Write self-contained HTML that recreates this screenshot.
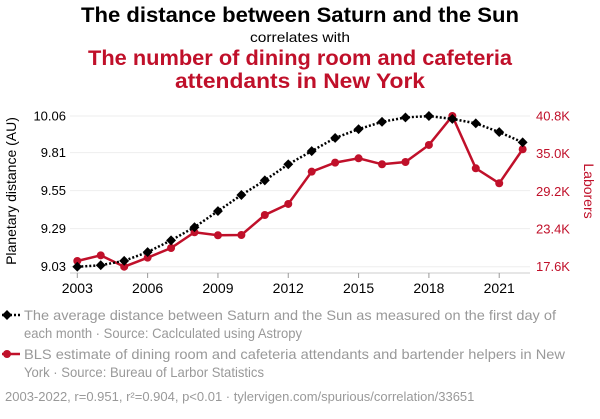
<!DOCTYPE html>
<html><head><meta charset="utf-8"><style>
body{margin:0;background:#fff;width:600px;height:414px;overflow:hidden;font-family:"Liberation Sans",sans-serif}
svg text{font-family:"Liberation Sans",sans-serif}
</style></head><body>
<svg width="600" height="414">
<text x="300" y="22" text-anchor="middle" font-size="21" font-weight="bold" fill="#000" textLength="438" lengthAdjust="spacingAndGlyphs">The distance between Saturn and the Sun</text>
<text x="300" y="42" text-anchor="middle" font-size="14" fill="#000" textLength="100" lengthAdjust="spacingAndGlyphs">correlates with</text>
<text x="300" y="65" text-anchor="middle" font-size="21" font-weight="bold" fill="#c0102a" textLength="424" lengthAdjust="spacingAndGlyphs">The number of dining room and cafeteria</text>
<text x="300" y="88" text-anchor="middle" font-size="21" font-weight="bold" fill="#c0102a" textLength="250" lengthAdjust="spacingAndGlyphs">attendants in New York</text>
<g id="grid"></g><g id="axes"></g><g id="series"></g>
<text transform="translate(16,191) rotate(-90)" text-anchor="middle" font-size="14" fill="#000">Planetary distance (AU)</text>
<text transform="translate(584,191) rotate(90)" text-anchor="middle" font-size="14" fill="#c0102a">Laborers</text>
<g>
<line x1="2" y1="315" x2="20" y2="315" stroke="#000" stroke-width="2.5" stroke-dasharray="2,2"/>
<rect x="3.5" y="311.5" width="7" height="7" transform="rotate(45 7 315)" fill="#000"/>
<text x="24" y="320" font-size="14" fill="#999" textLength="532" lengthAdjust="spacingAndGlyphs">The average distance between Saturn and the Sun as measured on the first day of</text>
<text x="24" y="338" font-size="14" fill="#999" textLength="278" lengthAdjust="spacingAndGlyphs">each month · Source: Caclculated using Astropy</text></g>
<g>
<line x1="2" y1="354" x2="20" y2="354" stroke="#c0102a" stroke-width="2.5"/>
<circle cx="7" cy="354" r="4" fill="#c0102a"/>
<text x="24" y="359" font-size="14" fill="#999" textLength="541" lengthAdjust="spacingAndGlyphs">BLS estimate of dining room and cafeteria attendants and bartender helpers in New</text>
<text x="24" y="377" font-size="14" fill="#999" textLength="240" lengthAdjust="spacingAndGlyphs">York · Source: Bureau of Larbor Statistics</text></g>
<text x="5" y="401" font-size="13" fill="#999">2003-2022, r=0.951, r²=0.904, p&lt;0.01 · tylervigen.com/spurious/correlation/33651</text>
</svg>
<script>
const years=[2003,2004,2005,2006,2007,2008,2009,2010,2011,2012,2013,2014,2015,2016,2017,2018,2019,2020,2021,2022];
const distance=[9.03,9.04,9.07,9.13,9.21,9.30,9.41,9.52,9.62,9.73,9.82,9.91,9.97,10.02,10.05,10.06,10.04,10.01,9.95,9.88];
const attendants=[18.48,19.35,17.6,18.99,20.48,22.9,22.44,22.48,25.56,27.26,32.23,33.62,34.29,33.37,33.72,36.34,40.8,32.75,30.44,35.68];
const leftTicks=[9.03,9.29,9.55,9.81,10.06];
const rightTicks=[17.6,23.4,29.2,35.0,40.8];
const xTicks=[2003,2006,2009,2012,2015,2018,2021];
const NS="http://www.w3.org/2000/svg";
const xS=y=>77.3+(y-2003)*23.44;
const yL=v=>266.7-(v-9.03)/(10.06-9.03)*150.7;
const yR=v=>266.7-(v-17.6)/(40.8-17.6)*150.7;
function mk(t,a,p){const e=document.createElementNS(NS,t);for(const k in a)e.setAttribute(k,a[k]);p.appendChild(e);return e;}
const grid=document.getElementById('grid'),axes=document.getElementById('axes'),ser=document.getElementById('series');
leftTicks.forEach((v,i)=>{const y=yL(v);
 const g=mk('line',{x1:70,x2:530,y1:y,y2:y,stroke:'#eee','stroke-width':1},grid);
 
 
 const t=mk('text',{x:66,y:y+4.5,'text-anchor':'end','font-size':13,fill:'#000'},axes);t.textContent=v.toFixed(2);
 
 });
rightTicks.forEach(v=>{const y=yR(v);
 const t=mk('text',{x:536,y:y+4.5,'font-size':13,fill:'#c0102a'},axes);t.textContent=v.toFixed(1)+'K';
 
 });
const ax=mk('line',{x1:70,x2:530,y1:273,y2:273,stroke:'#ccc','stroke-width':1},axes);


xTicks.forEach(yr=>{const x=xS(yr);
 mk('line',{x1:x,x2:x,y1:273,y2:278,stroke:'#999'},axes);
 const t=mk('text',{x:x,y:293,'text-anchor':'middle','font-size':14,fill:'#000'},axes);t.textContent=yr;
 
 });
const rl=mk('polyline',{points:years.map((y,i)=>xS(y)+','+yR(attendants[i])).join(' '),fill:'none',stroke:'#c0102a','stroke-width':2.5},ser);


years.forEach((y,i)=>{const c=mk('circle',{cx:xS(y),cy:yR(attendants[i]),r:4,fill:'#c0102a'},ser);
 
 });
const bl=mk('polyline',{points:years.map((y,i)=>xS(y)+','+yL(distance[i])).join(' '),fill:'none',stroke:'#000','stroke-width':2.5,'stroke-dasharray':'2,2'},ser);


years.forEach((y,i)=>{const x=xS(y),yy=yL(distance[i]);
 const r=mk('rect',{x:x-3.5,y:yy-3.5,width:7,height:7,fill:'#000',transform:`rotate(45 ${x} ${yy})`},ser);
 
 });
</script>
</body></html>
